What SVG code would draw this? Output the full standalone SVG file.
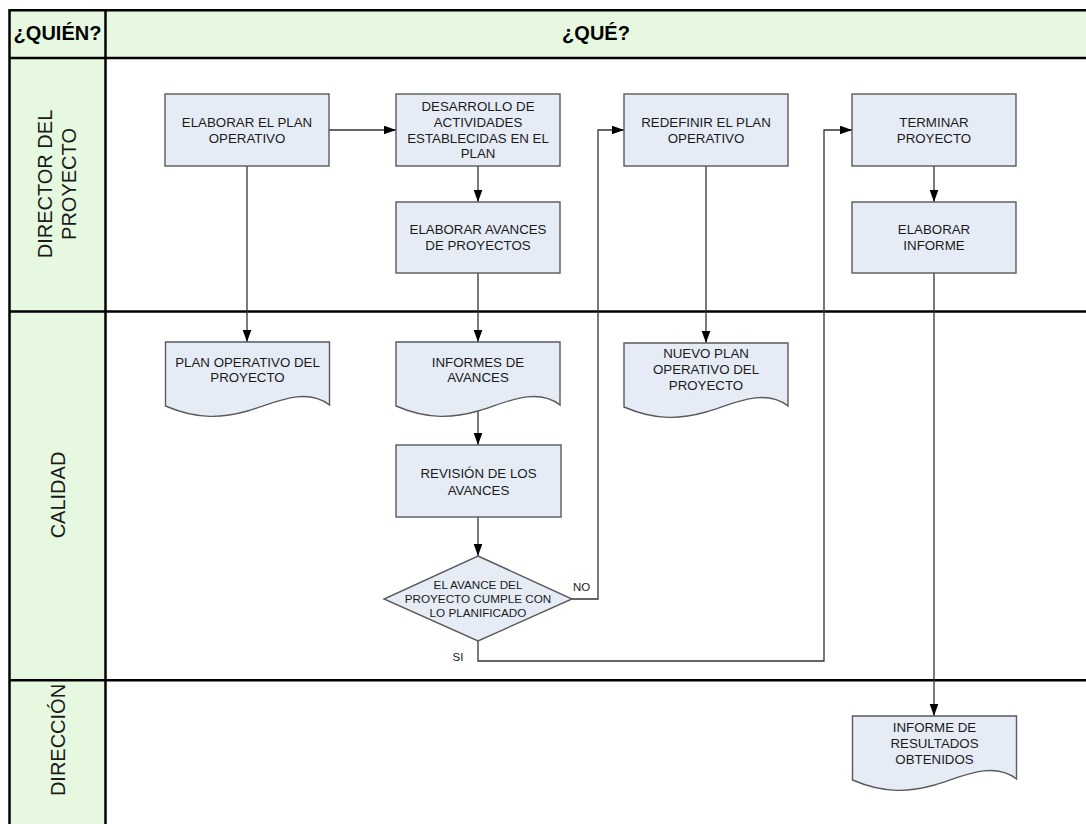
<svg xmlns="http://www.w3.org/2000/svg" xmlns:xlink="http://www.w3.org/1999/xlink" width="1086" height="824" viewBox="0 0 1086 824">
  <style>
    .band { fill: #E6F8E0; }
    .frame { stroke: #000; stroke-width: 2.5; fill: none; }
    .box { fill: #E6ECF6; stroke: #5a5a5a; stroke-width: 1.4; }
    .t { font-family: "Liberation Sans", Arial, sans-serif; font-size: 13.3px; fill: #1a1a1a; text-anchor: middle; }
    .ts { font-family: "Liberation Sans", Arial, sans-serif; font-size: 11.7px; fill: #1a1a1a; text-anchor: middle; }
    .lbl { font-family: "Liberation Sans", Arial, sans-serif; font-size: 11.5px; fill: #1a1a1a; }
    .head { font-family: "Liberation Sans", Arial, sans-serif; font-size: 20px; font-weight: bold; fill: #000; text-anchor: middle; }
    .lane { font-family: "Liberation Sans", Arial, sans-serif; font-size: 20px; fill: #1a1a1a; text-anchor: middle; }
    .conn { fill: none; stroke: #333; stroke-width: 1.3; marker-end: url(#arrow); }
  </style>
  <defs>
    <marker id="arrow" markerUnits="userSpaceOnUse" markerWidth="13" markerHeight="10" refX="12.5" refY="4.5" orient="auto">
      <path d="M0,0 L12.5,4.5 L0,9 Z" fill="#000"/>
    </marker>
    <!-- document shape: 164 wide, wavy bottom edge -->
    <path id="doc" d="M0,0 V64 c32.8,14 57.4,12 82,5 s57.4,-25 82,-6 V0 Z"/>
  </defs>

  <!-- swimlane frame -->
  <g id="frame">
    <rect class="band" x="9" y="10" width="1077" height="48"/>
    <rect class="band" x="9" y="58" width="96.5" height="766"/>
    <line class="frame" x1="9" y1="10.3" x2="1086" y2="10.3"/>
    <line class="frame" x1="9" y1="58" x2="1086" y2="58"/>
    <line class="frame" x1="9.5" y1="9" x2="9.5" y2="824"/>
    <line class="frame" x1="105.5" y1="9" x2="105.5" y2="824"/>
    <line class="frame" x1="9" y1="311.5" x2="1086" y2="311.5"/>
    <line class="frame" x1="9" y1="680.3" x2="1086" y2="680.3"/>
    <text class="head" x="57.5" y="39.5">¿QUIÉN?</text>
    <text class="head" x="596" y="40">¿QUÉ?</text>
    <text class="lane" transform="translate(57,184) rotate(-90)"><tspan x="0" y="-5">DIRECTOR DEL</tspan><tspan x="0" y="19">PROYECTO</tspan></text>
    <text class="lane" transform="translate(65,495) rotate(-90)">CALIDAD</text>
    <text class="lane" transform="translate(65,740) rotate(-90)">DIRECCIÓN</text>
  </g>

  <!-- connectors -->
  <g id="connectors">
    <path class="conn" d="M329,130 H396"/>
    <path class="conn" d="M247,166 V342"/>
    <path class="conn" d="M478,166 V202"/>
    <path class="conn" d="M478,273 V342"/>
    <path class="conn" d="M478,411 V445"/>
    <path class="conn" d="M478,517 V556"/>
    <path class="conn" d="M572,599 H598 V130 H624"/>
    <path class="conn" d="M478,641 V661 H824 V130 H852"/>
    <path class="conn" d="M706,166 V343"/>
    <path class="conn" d="M934,166 V202"/>
    <path class="conn" d="M934,273 V716"/>
    <text class="lbl" x="573" y="591">NO</text>
    <text class="lbl" x="452.5" y="661">SI</text>
  </g>

  <g id="elaborar-plan">
    <rect class="box" x="165" y="94" width="164" height="72"/>
    <text class="t"><tspan x="247" y="127">ELABORAR EL PLAN</tspan><tspan x="247" y="142.5">OPERATIVO</tspan></text>
  </g>
  <g id="desarrollo">
    <rect class="box" x="396" y="94" width="164" height="72"/>
    <text class="t"><tspan x="478" y="111.3">DESARROLLO DE</tspan><tspan x="478" y="126.9">ACTIVIDADES</tspan><tspan x="478" y="142.5">ESTABLECIDAS EN EL</tspan><tspan x="478" y="158.1">PLAN</tspan></text>
  </g>
  <g id="elaborar-avances">
    <rect class="box" x="396" y="202" width="164" height="71"/>
    <text class="t"><tspan x="478" y="233.5">ELABORAR AVANCES</tspan><tspan x="478" y="249.5">DE PROYECTOS</tspan></text>
  </g>
  <g id="redefinir">
    <rect class="box" x="624" y="94" width="164" height="72"/>
    <text class="t"><tspan x="706" y="127">REDEFINIR EL PLAN</tspan><tspan x="706" y="142.5">OPERATIVO</tspan></text>
  </g>
  <g id="terminar">
    <rect class="box" x="852" y="94" width="164" height="72"/>
    <text class="t"><tspan x="934" y="127">TERMINAR</tspan><tspan x="934" y="142.5">PROYECTO</tspan></text>
  </g>
  <g id="elaborar-informe">
    <rect class="box" x="852" y="202" width="164" height="71"/>
    <text class="t"><tspan x="934" y="233.5">ELABORAR</tspan><tspan x="934" y="249.5">INFORME</tspan></text>
  </g>

  <g id="plan-operativo">
    <use href="#doc" xlink:href="#doc" class="box" x="165.5" y="342"/>
    <text class="t"><tspan x="247.5" y="366.5">PLAN OPERATIVO DEL</tspan><tspan x="247.5" y="382">PROYECTO</tspan></text>
  </g>
  <g id="informes-avances">
    <use href="#doc" xlink:href="#doc" class="box" x="396" y="342"/>
    <text class="t"><tspan x="478" y="366.5">INFORMES DE</tspan><tspan x="478" y="382">AVANCES</tspan></text>
  </g>
  <g id="nuevo-plan">
    <use href="#doc" xlink:href="#doc" class="box" x="624" y="343"/>
    <text class="t"><tspan x="706" y="358">NUEVO PLAN</tspan><tspan x="706" y="374">OPERATIVO DEL</tspan><tspan x="706" y="390">PROYECTO</tspan></text>
  </g>
  <g id="revision">
    <rect class="box" x="396" y="445" width="165" height="72"/>
    <text class="t"><tspan x="478.5" y="478">REVISIÓN DE LOS</tspan><tspan x="478.5" y="494.5">AVANCES</tspan></text>
  </g>
  <g id="decision">
    <path class="box" d="M478,556 L572,599 L478,641 L384,599 Z"/>
    <text class="ts"><tspan x="478" y="589.2">EL AVANCE DEL</tspan><tspan x="478" y="603.2">PROYECTO CUMPLE CON</tspan><tspan x="478" y="617.2">LO PLANIFICADO</tspan></text>
  </g>
  <g id="informe-resultados">
    <use href="#doc" xlink:href="#doc" class="box" x="852.5" y="716"/>
    <text class="t"><tspan x="934.5" y="731.5">INFORME DE</tspan><tspan x="934.5" y="747.5">RESULTADOS</tspan><tspan x="934.5" y="763.5">OBTENIDOS</tspan></text>
  </g>
</svg>
